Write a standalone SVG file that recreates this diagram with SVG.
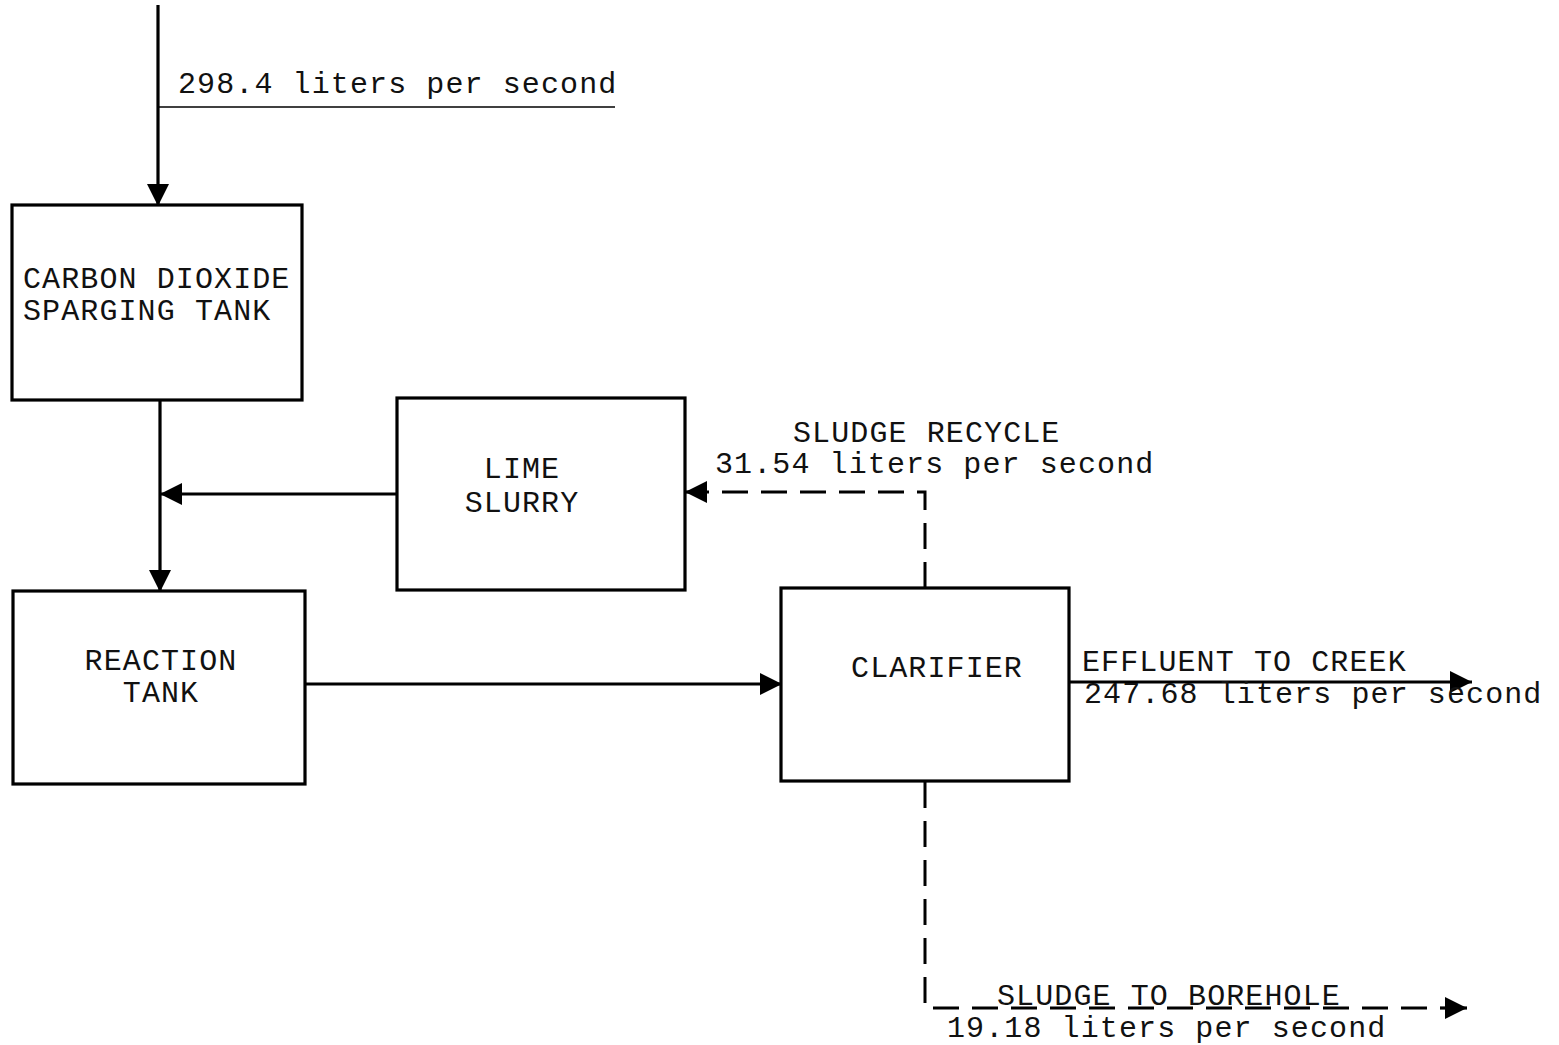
<svg xmlns="http://www.w3.org/2000/svg" width="1559" height="1045" viewBox="0 0 1559 1045">
<style>
  .box { fill: #fff; stroke: #000; stroke-width: 3.2; }
  .lbl { font-family: "Liberation Mono", "Courier New", monospace; font-size: 30px; letter-spacing: 1.1px; fill: #111; }
  .mid { text-anchor: middle; }
  .line { fill: none; stroke: #000; stroke-width: 3.2; }
  .dash { fill: none; stroke: #000; stroke-width: 3; stroke-dasharray: 26 13; }
  .thin { fill: none; stroke: #000; stroke-width: 1.6; }
</style>
<defs>
  <marker id="arr" markerUnits="userSpaceOnUse" markerWidth="26" markerHeight="26" viewBox="0 0 26 26" refX="24" refY="13" orient="auto">
    <path d="M2,2 L24,13 L2,24 Z" fill="#000"/>
  </marker>
</defs>
<rect width="1559" height="1045" fill="#fff"/>
<g id="connectors">
  <line class="line" x1="158" y1="5" x2="158" y2="206" marker-end="url(#arr)"/>
  <line class="thin" x1="159" y1="107" x2="615" y2="107"/>
  <line class="line" x1="160" y1="400" x2="160" y2="592" marker-end="url(#arr)"/>
  <line class="line" x1="397" y1="494" x2="160" y2="494" marker-end="url(#arr)"/>
  <line class="line" x1="305" y1="684" x2="782" y2="684" marker-end="url(#arr)"/>
  <path class="dash" d="M925,588 L925,492 L700,492"/>
  <line class="line" x1="706" y1="492" x2="685" y2="492" marker-end="url(#arr)"/>
  <line class="line" x1="1069" y1="682" x2="1472" y2="682" marker-end="url(#arr)"/>
  <path class="dash" d="M925,782 L925,1008 L1430,1008"/>
  <line class="line" x1="1440" y1="1008" x2="1467" y2="1008" marker-end="url(#arr)"/>
</g>
<g id="co2-tank">
  <rect class="box" x="12" y="205" width="290" height="195"/>
  <text class="lbl" x="23" y="288">CARBON DIOXIDE</text>
  <text class="lbl" x="23" y="320">SPARGING TANK</text>
</g>
<g id="lime-slurry">
  <rect class="box" x="397" y="398" width="288" height="192"/>
  <text class="lbl mid" x="522" y="478">LIME</text>
  <text class="lbl mid" x="522" y="512">SLURRY</text>
</g>
<g id="reaction-tank">
  <rect class="box" x="13" y="591" width="292" height="193"/>
  <text class="lbl mid" x="161" y="670">REACTION</text>
  <text class="lbl mid" x="161" y="702">TANK</text>
</g>
<g id="clarifier">
  <rect class="box" x="781" y="588" width="288" height="193"/>
  <text class="lbl mid" x="937" y="677">CLARIFIER</text>
</g>
<g id="labels">
  <text class="lbl" x="178" y="93">298.4 liters per second</text>
  <text class="lbl" x="793" y="442">SLUDGE RECYCLE</text>
  <text class="lbl" x="715" y="473">31.54 liters per second</text>
  <text class="lbl" x="1082" y="671">EFFLUENT TO CREEK</text>
  <text class="lbl" x="1084" y="703">247.68 liters per second</text>
  <text class="lbl" x="997" y="1005">SLUDGE TO BOREHOLE</text>
  <text class="lbl" x="947" y="1037">19.18 liters per second</text>
</g>
</svg>
